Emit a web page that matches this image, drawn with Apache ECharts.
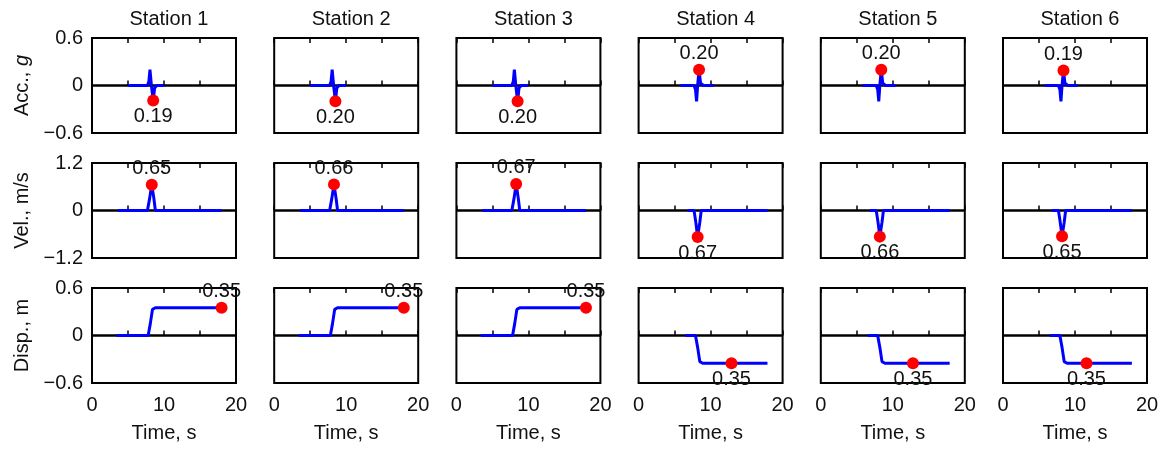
<!DOCTYPE html>
<html>
<head>
<meta charset="utf-8">
<script src="https://cdn.jsdelivr.net/npm/echarts@6/dist/echarts.min.js"></script>
<style>
html,body{margin:0;padding:0;background:#fff}
#main{width:1166px;height:451px}
</style>
</head>
<body>
<div id="main"></div>
<script>
// 数据
var stations = ['Station 1', 'Station 2', 'Station 3', 'Station 4', 'Station 5', 'Station 6'];
var rowNames = ['Acc., {i|g}', 'Vel., m/s', 'Disp., m'];
var rowLimit = [0.6, 1.2, 0.6];
var xTicks = [0, 10, 20];

// 加速度 (t, g)
var acc1 = [[5,0],[7.7,0],[7.9,0.05],[8.05,0.2],[8.25,0],[8.5,-0.19],[8.7,-0.03],[9,0],[10,0]];
var acc2 = [[5,0],[7.7,0],[7.9,0.05],[8.05,0.2],[8.25,0],[8.5,-0.2],[8.7,-0.03],[9,0],[10,0]];
var acc3 = [[5,0],[7.7,0],[7.9,0.05],[8.05,0.2],[8.25,0],[8.5,-0.2],[8.7,-0.03],[9,0],[10,0]];
var acc4 = [[5.8,0],[7.7,0],[7.9,-0.05],[8.05,-0.2],[8.2,0],[8.4,0.2],[8.6,0.03],[9,0],[10.4,0]];
var acc5 = [[5.8,0],[7.7,0],[7.9,-0.05],[8.05,-0.2],[8.2,0],[8.4,0.2],[8.6,0.03],[9,0],[10.4,0]];
var acc6 = [[5.8,0],[7.7,0],[7.9,-0.05],[8.05,-0.2],[8.2,0],[8.4,0.19],[8.6,0.03],[9,0],[10.4,0]];
var accPeak = [[8.5,-0.19],[8.5,-0.2],[8.5,-0.2],[8.4,0.2],[8.4,0.2],[8.4,0.19]];

// 速度 (t, m/s)
var vel1 = [[3.6,0],[7.7,0],[8.0,0.3],[8.3,0.65],[8.6,0.3],[8.8,0],[18,0]];
var vel2 = [[3.6,0],[7.7,0],[8.0,0.3],[8.3,0.66],[8.6,0.3],[8.8,0],[18,0]];
var vel3 = [[3.6,0],[7.7,0],[8.0,0.3],[8.3,0.67],[8.6,0.3],[8.8,0],[18,0]];
var vel4 = [[6.8,0],[7.7,0],[7.95,-0.3],[8.2,-0.67],[8.5,-0.3],[8.7,0],[17.9,0]];
var vel5 = [[6.8,0],[7.7,0],[7.95,-0.3],[8.2,-0.66],[8.5,-0.3],[8.7,0],[17.9,0]];
var vel6 = [[6.8,0],[7.7,0],[7.95,-0.3],[8.2,-0.65],[8.5,-0.3],[8.7,0],[17.9,0]];
var velPeak = [[8.3,0.65],[8.3,0.66],[8.3,0.67],[8.2,-0.67],[8.2,-0.66],[8.2,-0.65]];

// 位移 (t, m)
var disp1 = [[3.4,0],[7.8,0],[8.1,0.15],[8.4,0.33],[8.8,0.35],[18,0.35]];
var disp2 = [[3.4,0],[7.8,0],[8.1,0.15],[8.4,0.33],[8.8,0.35],[18,0.35]];
var disp3 = [[3.4,0],[7.8,0],[8.1,0.15],[8.4,0.33],[8.8,0.35],[18,0.35]];
var disp4 = [[6.5,0],[7.9,0],[8.2,-0.15],[8.5,-0.33],[8.9,-0.35],[17.9,-0.35]];
var disp5 = [[6.5,0],[7.9,0],[8.2,-0.15],[8.5,-0.33],[8.9,-0.35],[17.9,-0.35]];
var disp6 = [[6.5,0],[7.9,0],[8.2,-0.15],[8.5,-0.33],[8.9,-0.35],[17.9,-0.35]];
var dispPeak = [[18,0.35],[18,0.35],[18,0.35],[12.9,-0.35],[12.8,-0.35],[11.6,-0.35]];

var rowData = [
    [acc1, acc2, acc3, acc4, acc5, acc6],
    [vel1, vel2, vel3, vel4, vel5, vel6],
    [disp1, disp2, disp3, disp4, disp5, disp6]
];
var rowPeak = [accPeak, velPeak, dispPeak];

var FONT = '"Liberation Sans", Arial, Helvetica, sans-serif';
var TXT = '#111';

var myChart = echarts.init(document.getElementById('main'));

var grids = [], xAxes = [], yAxes = [], series = [], titles = [];
var lefts = [92, 274.2, 456.4, 638.6, 820.8, 1003];
var tops = [38, 163, 288];
var W = 144, H = 95;

for (var c = 0; c < 6; c++) {
    titles.push({
        text: stations[c],
        left: lefts[c] + W / 2,
        top: 4,
        textAlign: 'center',
        textStyle: {fontFamily: FONT, fontSize: 20, fontWeight: 'normal', color: TXT}
    });
}

for (var r = 0; r < 3; r++) {
    for (var c = 0; c < 6; c++) {
        var idx = r * 6 + c;
        var lim = rowLimit[r];
        grids.push({
            left: lefts[c], top: tops[r], width: W, height: H,
            show: true, borderColor: '#000', borderWidth: 2, backgroundColor: 'transparent'
        });
        // 下轴
        xAxes.push({
            gridIndex: idx, type: 'value', position: 'bottom', min: 0, max: 20, interval: 5,
            axisLine: {show: false},
            axisTick: {show: true, inside: true, length: 5, lineStyle: {color: '#000', width: 1.5}},
            splitLine: {show: false},
            axisLabel: {
                show: r === 2, margin: 12, fontFamily: FONT, fontSize: 20, color: TXT,
                formatter: function (v) { return xTicks.indexOf(v) >= 0 ? String(v) : ''; }
            },
            name: r === 2 ? 'Time, s' : '',
            nameLocation: 'middle', nameGap: 40,
            nameTextStyle: {fontFamily: FONT, fontSize: 20, color: TXT}
        });
        // 上轴 (只要刻度)
        xAxes.push({
            gridIndex: idx, type: 'value', position: 'top', min: 0, max: 20, interval: 5,
            axisLine: {show: false},
            axisTick: {show: true, inside: true, length: 5, lineStyle: {color: '#000', width: 1.5}},
            splitLine: {show: false},
            axisLabel: {show: false}
        });
        yAxes.push({
            gridIndex: idx, type: 'value', min: -lim, max: lim, interval: lim,
            axisLine: {show: false}, axisTick: {show: false}, splitLine: {show: false},
            axisLabel: {
                show: c === 0, margin: 9, fontFamily: FONT, fontSize: 20, color: TXT,
                formatter: function (v) { return v < 0 ? '\u2212' + Math.abs(v) : String(v); }
            },
            name: c === 0 ? rowNames[r] : '',
            nameLocation: 'middle', nameGap: 60,
            nameTextStyle: {
                fontFamily: FONT, fontSize: 20, color: TXT,
                rich: {i: {fontFamily: FONT, fontSize: 20, color: TXT, fontStyle: 'italic'}}
            }
        });
        series.push({
            type: 'line', xAxisIndex: 2 * idx, yAxisIndex: idx,
            data: rowData[r][c], showSymbol: false, smooth: false,
            lineStyle: {color: '#0000ff', width: 3},
            z: 3,
            markLine: {
                silent: true, symbol: 'none', label: {show: false},
                lineStyle: {color: '#000', width: 2.5, type: 'solid'},
                data: [{yAxis: 0}], z: 2
            }
        });
        var pk = rowPeak[r][c];
        series.push({
            type: 'scatter', xAxisIndex: 2 * idx, yAxisIndex: idx,
            data: [pk], symbolSize: 12, z: 5,
            itemStyle: {color: '#ff0000', opacity: 1},
            label: {
                show: true, position: pk[1] > 0 ? 'top' : 'bottom', distance: 0,
                fontFamily: FONT, fontSize: 20, color: TXT,
                formatter: function (p) { return Math.abs(p.value[1]).toFixed(2); }
            }
        });
    }
}

var option = {
    animation: false,
    backgroundColor: '#fff',
    title: titles,
    grid: grids,
    xAxis: xAxes,
    yAxis: yAxes,
    series: series
};
myChart.setOption(option);

window.onresize = function () {
    myChart.resize();
};
</script>
</body>
</html>
